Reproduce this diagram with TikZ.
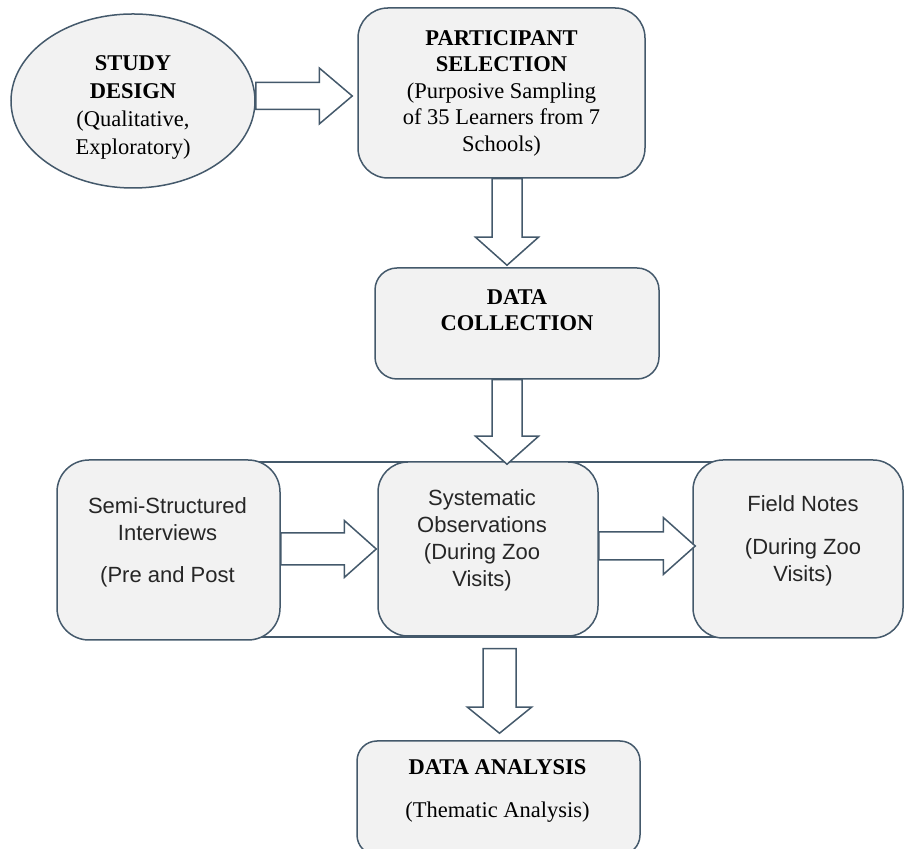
\documentclass[tikz,border=0pt]{standalone}
\usepackage{fontspec}
\setmainfont{Liberation Serif}
\setsansfont{Liberation Sans}
\usetikzlibrary{shapes.geometric,calc}
\definecolor{edge}{HTML}{44596B}
\definecolor{boxfill}{HTML}{F2F2F2}
\tikzset{
 box/.style={draw=edge, fill=boxfill, line width=1.5pt, inner sep=0pt},
 oval/.style={ellipse, draw=edge, fill=boxfill, line width=1.5pt, inner sep=0pt},
 serif/.style={font=\rmfamily\fontsize{22.5}{26.5}\selectfont, align=center, text=black},
 sans/.style={font=\sffamily\fontsize{22}{27}\selectfont, align=center, text=black!85},
 blockarrow/.style={draw=edge, fill=white, line width=1.5pt, line join=miter},
 frame/.style={draw=edge, line width=1.5pt, inner sep=0pt}
}
% horizontal block arrow: #1 start (y = centre), #2 tip, #3 shaft half, #4 head half, #5 head length
\newcommand{\hblock}[5]{\draw[blockarrow] let \p1=#1, \p2=#2 in
  (\x1,\y1+#3) -- (\x2-#5,\y1+#3) -- (\x2-#5,\y1+#4) -- (\x2,\y1) --
  (\x2-#5,\y1-#4) -- (\x2-#5,\y1-#3) -- (\x1,\y1-#3) -- cycle;}
% vertical block arrow: #1 start (x = centre), #2 tip
\newcommand{\vblock}[5]{\draw[blockarrow] let \p1=#1, \p2=#2 in
  (\x1-#3,\y1) -- (\x1-#3,\y2+#5) -- (\x1-#4,\y2+#5) -- (\x1,\y2) --
  (\x1+#4,\y2+#5) -- (\x1+#3,\y2+#5) -- (\x1+#3,\y1) -- cycle;}
\begin{document}
\begin{tikzpicture}[x=1pt,y=1pt]
\useasboundingbox (0,0) rectangle (904,848);
% grouping frame (its ends are hidden behind the outer boxes)
\node[frame, minimum width=750pt, minimum height=175pt] (group) at (475,298.5) {};
% top row
\node[oval, minimum width=244pt, minimum height=174pt] (design) at (133,747) {};
\node[serif, font=\rmfamily\fontsize{22.5}{28}\selectfont] (designtext) at (133,741)
  {\textbf{STUDY}\\\textbf{DESIGN}\\(Qualitative,\\Exploratory)};
\node[box, serif, rounded corners=30pt, minimum width=287pt, minimum height=170pt] (part) at (501.5,755)
  {\textbf{PARTICIPANT}\\\textbf{SELECTION}\\(Purposive Sampling\\of 35 Learners from 7\\Schools)};
\node[box, serif, rounded corners=22pt, minimum width=284pt, minimum height=111pt] (coll) at (517,524.5)
  {\textbf{DATA}\\\textbf{COLLECTION}\\\mbox{}};
% methods row
\node[box, rounded corners=32pt, minimum width=223pt, minimum height=180pt] (semi) at (168.5,298) {};
\node[box, rounded corners=30pt, minimum width=220pt, minimum height=174pt] (obs) at (488,299) {};
\node[box, rounded corners=30pt, minimum width=210pt, minimum height=178pt] (field) at (798,299) {};
\node[sans] (semitext) at (167.5,306) {Semi-Structured\\Interviews\\[15pt](Pre and Post};
\node[sans] (obstext) at (482,308) {Systematic\\Observations\\(During Zoo\\Visits)};
\node[sans] (fieldtext) at (803,307) {Field Notes\\[16pt](During Zoo\\Visits)};
% analysis
\node[box, rounded corners=20pt, minimum width=283pt, minimum height=114pt] (analysis) at (498.5,50) {};
\node[serif] (analysistext) at (497.5,57) {\textbf{DATA ANALYSIS}\\[17pt](Thematic Analysis)};
% block arrows
\hblock{($(design.east)+(0,5)$)}{($(part.west)+(-5,0)$)}{13.5pt}{28pt}{33pt}
\vblock{($(part.south)+(5.5,0)$)}{($(coll.north)+(0,2)$)}{15pt}{31.5pt}{28pt}
\vblock{($(coll.south)+(-10,0)$)}{($(obs.north)+(0,-3)$)}{15pt}{31.5pt}{28pt}
\hblock{($(semi.east)+(0,1)$)}{($(obs.west)+(-1,0)$)}{16pt}{28.5pt}{32pt}
\hblock{($(obs.east)+(0,3)$)}{($(field.west)+(3,0)$)}{14pt}{28.5pt}{32pt}
\vblock{($(group.south)+(24.5,-11)$)}{($(analysis.north)+(0,7)$)}{16.5pt}{32pt}{26pt}
\end{tikzpicture}
\end{document}
